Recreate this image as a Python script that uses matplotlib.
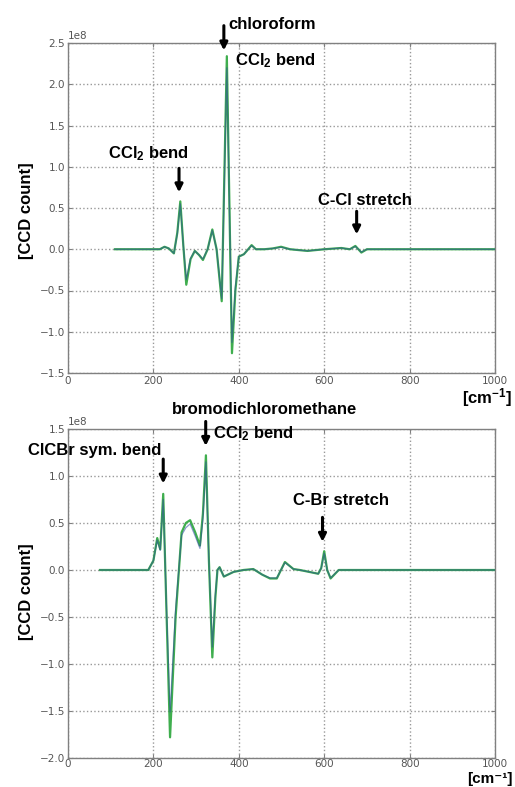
import matplotlib
matplotlib.use("Agg")
import matplotlib.pyplot as plt
import numpy as np

# ---------------- data (values in units of 1e8 CCD counts) ----------------
top_x = [110, 215, 226, 236, 248, 256, 263, 270, 277, 287, 297, 307, 316, 327,
         338, 348, 360, 372, 384, 392, 400, 412, 422, 430, 440, 460, 480, 499,
         520, 540, 561, 600, 640, 660, 673, 680, 687, 700, 800, 1000]
top_green = [0, 0, 0.03, 0.01, -0.05, 0.2, 0.58, 0.05, -0.43, -0.12, -0.02, -0.07,
             -0.13, 0.0, 0.24, 0.0, -0.63, 2.34, -1.26, -0.5, -0.09, -0.06, 0.0,
             0.05, 0.0, 0.0, 0.01, 0.03, 0.0, -0.01, -0.02, 0.0, 0.015, 0.0,
             0.04, 0.0, -0.04, 0.0, 0.0, 0.0]
top_blue = [0, 0, 0.03, 0.01, -0.05, 0.19, 0.55, 0.05, -0.37, -0.11, -0.02, -0.07,
            -0.12, 0.0, 0.23, 0.0, -0.6, 2.2, -1.13, -0.46, -0.09, -0.06, 0.0,
            0.045, 0.0, 0.0, 0.01, 0.025, 0.0, -0.01, -0.02, 0.0, 0.015, 0.0,
            0.035, 0.0, -0.035, 0.0, 0.0, 0.0]

bot_x = [75, 188, 200, 209, 216, 223, 231, 239, 252, 266, 276, 286, 298, 309,
         316, 323, 330, 338, 345, 350, 355, 365, 388, 411, 434, 455, 473, 489,
         508, 528, 543, 586, 593, 600, 607, 615, 634, 700, 1000]
bot_green = [0, 0, 0.1, 0.34, 0.22, 0.81, -0.5, -1.78, -0.5, 0.40, 0.5, 0.53,
             0.40, 0.26, 0.6, 1.22, 0.1, -0.93, -0.3, 0.0, 0.03, -0.07, -0.02,
             0.0, 0.01, -0.05, -0.09, -0.09, 0.085, 0.01, 0.0, -0.04, 0.02, 0.2,
             0.0, -0.09, 0.0, 0.0, 0.0]
bot_blue = [0, 0, 0.1, 0.32, 0.21, 0.75, -0.45, -1.51, -0.42, 0.37, 0.45, 0.49,
            0.36, 0.23, 0.55, 1.15, 0.1, -0.82, -0.27, 0.0, 0.03, -0.07, -0.02,
            0.0, 0.01, -0.05, -0.085, -0.085, 0.08, 0.01, 0.0, -0.04, 0.02, 0.18,
            0.0, -0.085, 0.0, 0.0, 0.0]

xticks = [0, 200, 400, 600, 800, 1000]
top_yticks = [-1.5, -1.0, -0.5, 0.0, 0.5, 1.0, 1.5, 2.0, 2.5]
bot_yticks = [-2.0, -1.5, -1.0, -0.5, 0.0, 0.5, 1.0, 1.5]

SCALE = 1e8

plt.rcParams['mathtext.fontset'] = 'custom'
plt.rcParams['mathtext.rm'] = 'Liberation Sans:bold'
plt.rcParams['mathtext.bf'] = 'Liberation Sans:bold'
plt.rcParams['mathtext.it'] = 'Liberation Sans:bold'

fig = plt.figure(figsize=(5.15, 7.87), dpi=100)
W, H = 515.0, 787.0

def px_axes(l, t, r, b):
    return fig.add_axes([l / W, 1 - b / H, (r - l) / W, (b - t) / H])

ax1 = px_axes(68, 43, 495, 373)
ax2 = px_axes(68, 429, 495, 758)

GREEN = '#3fae4e'
BLUE = '#2b4a9e'
LBL = dict(fontfamily='Liberation Sans', fontweight='bold', fontsize=12)

def style(ax, yticks):
    ax.set_xlim(0, 1000)
    ax.set_ylim(yticks[0] * SCALE, yticks[-1] * SCALE)
    ax.set_xticks(xticks)
    ax.set_yticks([v * SCALE for v in yticks])
    ax.grid(True, linestyle=':', color='#999999', linewidth=1.0)
    for s in ax.spines.values():
        s.set_color('#808080')
        s.set_linewidth(1.0)
    ax.tick_params(direction='in', length=3, color='#808080', labelcolor='#555555',
                   labelsize=7.5, top=True, right=True, pad=2)
    ax.yaxis.get_offset_text().set_fontsize(7.5)
    ax.yaxis.get_offset_text().set_color('#555555')

for ax, xs, g, b, yt in [(ax1, top_x, top_green, top_blue, top_yticks),
                         (ax2, bot_x, bot_green, bot_blue, bot_yticks)]:
    ax.plot(xs, np.array(g) * SCALE, color=GREEN, lw=1.6, zorder=3)
    ax.plot(xs, np.array(b) * SCALE, color=BLUE, lw=0.9, alpha=0.55, zorder=4)
    style(ax, yt)

ax2.tick_params(axis='x', pad=1)

ARROW = dict(arrowstyle='-|>', lw=2.2, color='black', mutation_scale=11,
             shrinkA=0, shrinkB=0)

def arrow(ax, x, y0, y1):
    ax.annotate('', xy=(x, y1 * SCALE), xytext=(x, y0 * SCALE),
                arrowprops=ARROW, annotation_clip=False, zorder=6)

def label(ax, x, y, s, ha='left'):
    ax.text(x, y * SCALE, s, ha=ha, va='center', clip_on=False, zorder=6, **LBL)

# top annotations
label(ax1, 375, 2.73, 'chloroform')
arrow(ax1, 365, 2.71, 2.41)
label(ax1, 391, 2.29, r'CCl$_\mathbf{2}$ bend')
label(ax1, 94, 1.16, r'CCl$_\mathbf{2}$ bend')
arrow(ax1, 260, 0.98, 0.69)
label(ax1, 585, 0.59, 'C-Cl stretch')
arrow(ax1, 676, 0.46, 0.18)

# bottom annotations
label(ax2, 244, 1.71, 'bromodichloromethane')
arrow(ax2, 322.5, 1.58, 1.32)
label(ax2, 340, 1.45, r'CCl$_\mathbf{2}$ bend')
label(ax2, -94, 1.27, 'ClCBr sym. bend')
arrow(ax2, 223, 1.18, 0.92)
label(ax2, 527, 0.74, 'C-Br stretch')
arrow(ax2, 596, 0.56, 0.30)

# axis labels
fig.text(26 / W, 1 - 211 / H, '[CCD count]', rotation=90, ha='center', va='center', **LBL)
fig.text(26 / W, 1 - 592 / H, '[CCD count]', rotation=90, ha='center', va='center', **LBL)
fig.text(512 / W, 1 - 398 / H, r'[cm$^\mathbf{-1}$]', ha='right', va='center', **LBL)
fig.text(513 / W, 0.5 / H, '[cm\u207b\u00b9]', ha='right', va='bottom',
         fontfamily=['Liberation Sans', 'DejaVu Sans'], fontweight='bold', fontsize=11)

fig.savefig('out.png', dpi=100)
